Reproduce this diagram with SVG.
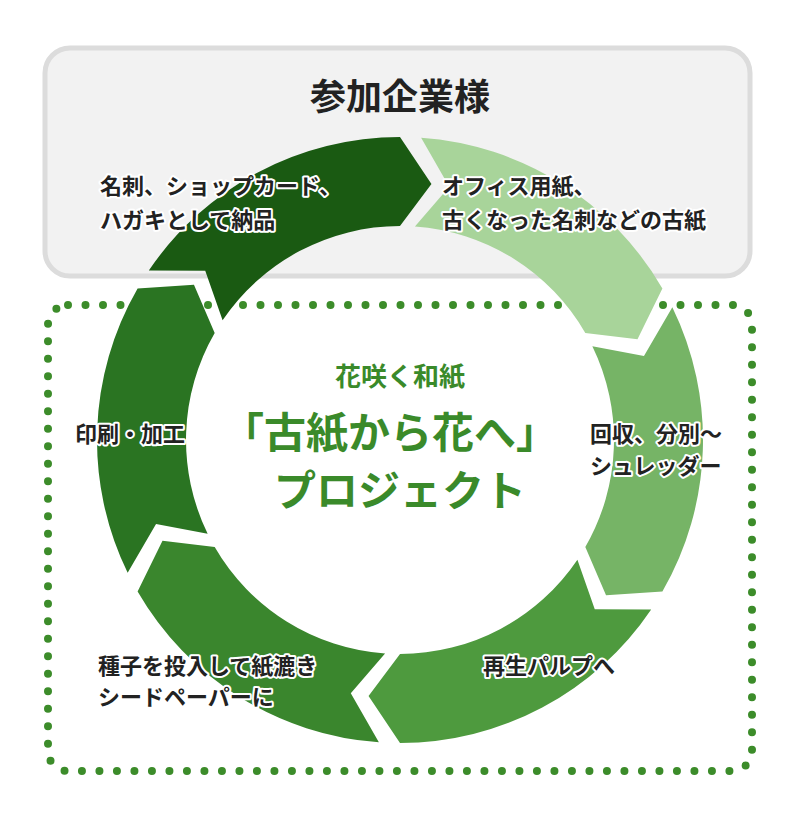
<svg xmlns="http://www.w3.org/2000/svg" width="800" height="819" viewBox="0 0 800 819">
<style>
text{font-family:"Noto Sans CJK JP","Noto Sans",sans-serif;font-weight:bold}
.lb{font-size:22px;fill:#222;stroke:#fff;stroke-width:4px;paint-order:stroke;stroke-linejoin:round}
.cg{fill:#3a8a2a}
</style>
<defs>
<path id="seg" d="M302.26,21.14 A303,303 0 0 1 151.5,262.4 L100.8,237.5 L107,185.3 A214,214 0 0 0 213.48,14.93 L253.3,49.2 Z"/>
</defs>
<rect x="45" y="48" width="705" height="228" rx="25" fill="#f2f2f2" stroke="#dcdcdc" stroke-width="5"/>
<rect x="48" y="305" width="704" height="466" rx="20" fill="none" stroke="#3c8c2a" stroke-width="8" stroke-dasharray="0 17.5" stroke-linecap="round"/>
<g id="connectors" transform="translate(400,440)">
<use href="#seg" transform="rotate(-90)" fill="#a8d49a"/>
<use href="#seg" transform="rotate(-30)" fill="#76b466"/>
<use href="#seg" transform="rotate(30)" fill="#4e9a3e"/>
<use href="#seg" transform="rotate(90)" fill="#3a862d"/>
<use href="#seg" transform="rotate(150)" fill="#2a7422"/>
<use href="#seg" transform="rotate(210)" fill="#1a5a12"/>
</g>
<g id="title"><text x="400" y="110" text-anchor="middle" font-size="36" fill="#222">参加企業様</text></g>
<g id="n1"><text class="lb" x="100" y="194">名刺、ショップカード、</text><text class="lb" x="100" y="228">ハガキとして納品</text></g>
<g id="n2"><text class="lb" x="442" y="194">オフィス用紙、</text><text class="lb" x="442" y="228">古くなった名刺などの古紙</text></g>
<g id="n3"><text class="lb" x="590" y="442">回収、分別～</text><text class="lb" x="590" y="474">シュレッダー</text></g>
<g id="n4"><text class="lb" x="483" y="674">再生パルプへ</text></g>
<g id="n5"><text class="lb" x="98" y="674">種子を投入して紙漉き</text><text class="lb" x="98" y="705">シードペーパーに</text></g>
<g id="n6"><text class="lb" x="75" y="442">印刷・加工</text></g>
<g id="center">
<text class="cg" x="400" y="386" text-anchor="middle" font-size="26">花咲く和紙</text>
<text class="cg" x="390" y="448" text-anchor="middle" font-size="42">「古紙から花へ」</text>
<text class="cg" x="400" y="506" text-anchor="middle" font-size="42">プロジェクト</text>
</g>
</svg>
